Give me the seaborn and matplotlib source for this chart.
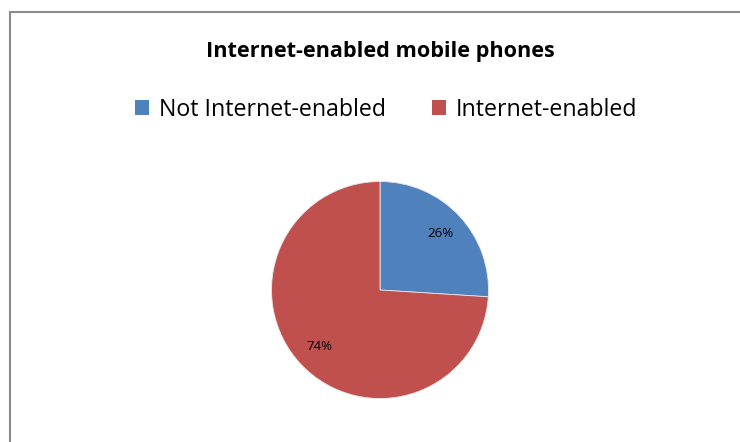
import matplotlib
matplotlib.use("Agg")
import matplotlib.pyplot as plt
import seaborn as sns
from matplotlib.patches import Patch, Rectangle

categories = ["Not Internet-enabled", "Internet-enabled"]
values = [26, 74]
colors = ["#4F81BD", "#C0504D"]
title = "Internet-enabled mobile phones"

sns.set_theme(style="white")
plt.rcParams["font.family"] = ["Open Sans", "DejaVu Sans"]
plt.rcParams["text.color"] = "black"

W, H = 740, 442
fig = plt.figure(figsize=(W / 100, H / 100), dpi=100)
fig.patch.set_facecolor("white")

# chart border (left and top visible)
fig.add_artist(Rectangle((9.5 / W, -0.05), 1.1, (H - 11.5) / H + 0.05,
                         transform=fig.transFigure, fill=False,
                         edgecolor="#8c8c8c", linewidth=1.5))

cx, cy, r = 380, 290, 108.5
ax = fig.add_axes([(cx - r) / W, (H - cy - r) / H, 2 * r / W, 2 * r / H])
wedges, texts, autotexts = ax.pie(values, colors=colors, startangle=90,
                                  counterclock=False, autopct="%d%%",
                                  pctdistance=0.76, radius=1,
                                  wedgeprops=dict(linewidth=0.6, edgecolor="#e8e8e8"),
                                  textprops=dict(fontsize=9.5, color="black"))
ax.set_xlim(-1, 1)
ax.set_ylim(-1, 1)
ax.set_aspect("equal")
ax.axis("off")

fig.text(380 / W, 1 - 52 / H, title, ha="center", va="center",
         fontsize=15.6, fontweight="bold", color="black")

handles = [Patch(facecolor=c, edgecolor="none") for c in colors]
leg = fig.legend(handles, categories, loc="center", bbox_to_anchor=(386 / W, 1 - 110 / H),
                 ncol=2, frameon=False, fontsize=16.7, handlelength=0.62, handleheight=0.62,
                 handletextpad=0.4, columnspacing=2.0)
for t in leg.get_texts():
    t.set_color("black")

fig.savefig("out.png", dpi=100, facecolor="white")
